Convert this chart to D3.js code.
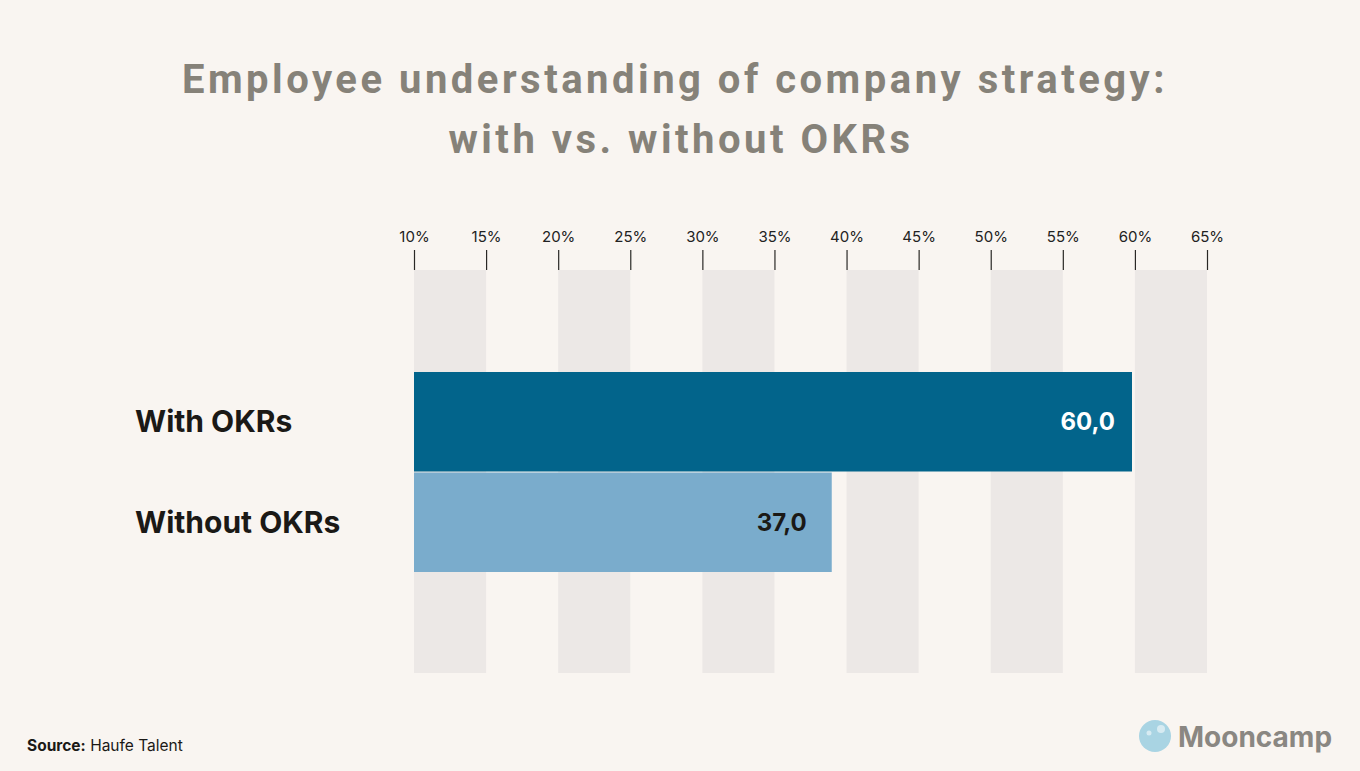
<!DOCTYPE html>
<html>
<head>
<meta charset="utf-8">
<script src="https://cdn.jsdelivr.net/npm/d3@7"></script>
<style>
  html, body { margin: 0; padding: 0; background: #f9f5f1; }
  svg { display: block; }
</style>
</head>
<body>
<div class="graph"></div>
<script>
const categories = ["With OKRs", "Without OKRs"];
const values = [60.0, 37.0];
const valueLabels = ["60,0", "37,0"];
const tickValues = [10, 15, 20, 25, 30, 35, 40, 45, 50, 55, 60, 65];
const bandStarts = [10, 20, 30, 40, 50, 60];
const titleLines = ["Employee understanding of company strategy:", "with vs. without OKRs"];

const width = 1360,
      height = 771;

const svg = d3.select(".graph")
  .append("svg")
  .attr("width", width)
  .attr("height", height);

svg.append("rect")
  .attr("width", width)
  .attr("height", height)
  .attr("fill", "#f9f5f1");

// title
svg.append("g")
  .selectAll("text")
  .data(titleLines)
  .enter()
  .append("text")
  .attr("x", (d, i) => i == 0 ? 675 : 681)
  .attr("y", (d, i) => 93 + i * 60)
  .attr("text-anchor", "middle")
  .attr("font-family", "Roboto, sans-serif")
  .attr("font-weight", 700)
  .attr("font-size", 40)
  .attr("letter-spacing", 3.5)
  .attr("fill", "#868279")
  .text(d => d);

// axis scale
const x = d3.scaleLinear().domain([10, 65]).range([414, 1207]);
// bars in the source start at 5 on their own scale
const xBar = d3.scaleLinear().domain([5, 60]).range([414, 1132]);

const y = d3.scaleBand()
  .domain(categories)
  .range([372, 572])
  .paddingInner(0.01);

// background bands
svg.append("g")
  .selectAll("rect")
  .data(bandStarts)
  .enter()
  .append("rect")
  .attr("x", d => x(d))
  .attr("width", d => x(d + 5) - x(d))
  .attr("y", 270)
  .attr("height", 403)
  .attr("fill", "#ece8e6");

// top axis
const xAxis = d3.axisTop(x)
  .tickValues(tickValues)
  .tickSize(20)
  .tickPadding(8)
  .tickFormat(d => d + "%");

const axisG = svg.append("g")
  .attr("transform", "translate(0, 270)")
  .call(xAxis);

axisG.select(".domain").remove();
axisG.selectAll(".tick line")
  .attr("stroke", "#2a2826")
  .attr("stroke-width", 1.2);
axisG.selectAll(".tick text")
  .attr("font-family", "Inter, sans-serif")
  .attr("font-size", 15)
  .attr("fill", "#222")
  .attr("dy", "0em");

// bars
svg.append("g")
  .selectAll("rect")
  .data(values)
  .enter()
  .append("rect")
  .attr("x", xBar(5))
  .attr("y", (d, i) => y(categories[i]))
  .attr("width", d => xBar(d) - xBar(5))
  .attr("height", y.bandwidth())
  .attr("fill", (d, i) => i == 0 ? "#02648b" : "#7aaccc");

// value labels
svg.append("g")
  .selectAll("text")
  .data(values)
  .enter()
  .append("text")
  .attr("x", (d, i) => xBar(d) - (i == 0 ? 17 : 25))
  .attr("y", (d, i) => y(categories[i]) + y.bandwidth() / 2)
  .attr("dy", "0.35em")
  .attr("text-anchor", "end")
  .attr("font-family", "Inter, sans-serif")
  .attr("font-weight", 700)
  .attr("font-size", 24)
  .attr("fill", (d, i) => i == 0 ? "#ffffff" : "#1b1916")
  .text((d, i) => valueLabels[i]);

// category labels
svg.append("g")
  .selectAll("text")
  .data(categories)
  .enter()
  .append("text")
  .attr("x", 135)
  .attr("y", d => y(d) + y.bandwidth() / 2)
  .attr("dy", "0.35em")
  .attr("font-family", "Inter, sans-serif")
  .attr("font-weight", 700)
  .attr("font-size", 30)
  .attr("fill", "#1b1916")
  .text(d => d);

// source
const src = svg.append("text")
  .attr("x", 27)
  .attr("y", 751)
  .attr("font-family", "Inter, sans-serif")
  .attr("font-size", 15.5)
  .attr("fill", "#1b1916");
src.append("tspan").attr("font-weight", 700).text("Source:");
src.append("tspan").text(" Haufe Talent");

// logo
const logo = svg.append("g");
logo.append("circle")
  .attr("cx", 1155)
  .attr("cy", 736)
  .attr("r", 16)
  .attr("fill", "#a9d4e3");
logo.append("circle")
  .attr("cx", 1161)
  .attr("cy", 729)
  .attr("r", 4)
  .attr("fill", "#d7ebf2");
logo.append("circle")
  .attr("cx", 1149)
  .attr("cy", 733)
  .attr("r", 2.5)
  .attr("fill", "#d7ebf2");
logo.append("text")
  .attr("x", 1178)
  .attr("y", 747)
  .attr("font-family", "Inter, sans-serif")
  .attr("font-weight", 700)
  .attr("font-size", 28)
  .attr("fill", "#8a8782")
  .text("Mooncamp");
</script>
</body>
</html>
